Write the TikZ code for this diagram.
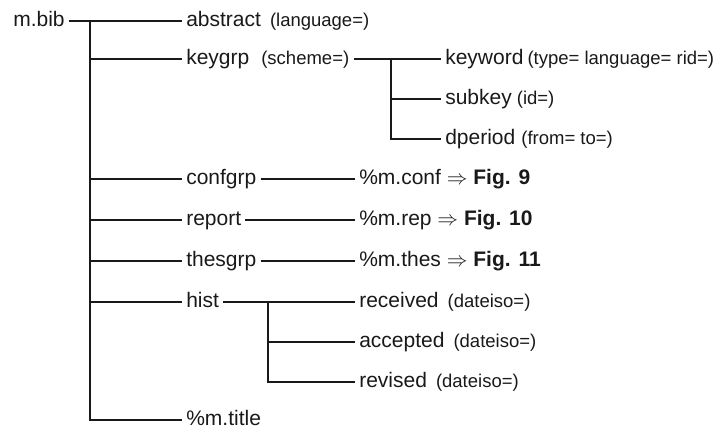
\documentclass[tikz,border=0pt]{standalone}
\usepackage{fontspec}
\setmainfont{Liberation Sans}
\usepackage{xcolor}

\newcommand{\attr}[2][9pt]{\hspace{#1}{\fontsize{18.5}{20}\selectfont(#2)}}
\newcommand{\figref}[2]{#1 $\Rightarrow$ \textbf{Fig. #2}}

\begin{document}
\begin{tikzpicture}
  [x=1pt,y=-1pt,line width=2.6pt,color=black!90,
   every node/.style={anchor=west,inner sep=3pt,text height=15pt,text depth=4pt,
                      font=\fontsize{21}{24}\selectfont}]
  \useasboundingbox (0,0) rectangle (727,431);

  \node (bib)      at (9,21)    {m.bib};
  \node (abstract) at (182,21)  {abstract\attr{language=}};
  \node (keygrp)   at (182,59)  {keygrp\attr[12pt]{scheme=}};
  \node (keyword)  at (441,59)  {keyword\attr[4pt]{type= language= rid=}};
  \node (subkey)   at (441,99)  {subkey\attr[5pt]{id=}};
  \node (dperiod)  at (441,139) {dperiod\attr[6pt]{from= to=}};
  \node (confgrp)  at (182,179) {confgrp};
  \node (conf)     at (355,179) {\figref{\%m.conf}{9}};
  \node (report)   at (182,220) {report};
  \node (rep)      at (355,220) {\figref{\%m.rep}{10}};
  \node (thesgrp)  at (182,261) {thesgrp};
  \node (thes)     at (355,261) {\figref{\%m.thes}{11}};
  \node (hist)     at (182,302) {hist};
  \node (received) at (355,302) {received\attr{dateiso=}};
  \node (accepted) at (355,342) {accepted\attr{dateiso=}};
  \node (revised)  at (355,382) {revised\attr{dateiso=}};
  \node (title)    at (182,420) {\%m.title};

  \coordinate (t1) at (90,21);
  \coordinate (t2) at (391,59);
  \coordinate (t3) at (268,302);

  \foreach \from/\to in {bib/abstract,keygrp/keyword,confgrp/conf,report/rep,thesgrp/thes,hist/received}
    \draw (\from.east) -- (\to.west);

  \draw (t1) |- (title.west);
  \foreach \to in {keygrp,confgrp,report,thesgrp,hist}
    \draw (t1 |- \to.west) -- (\to.west);

  \draw (t2) |- (dperiod.west);
  \draw (t2 |- subkey.west) -- (subkey.west);

  \draw (t3) |- (revised.west);
  \draw (t3 |- accepted.west) -- (accepted.west);

\end{tikzpicture}
\end{document}
